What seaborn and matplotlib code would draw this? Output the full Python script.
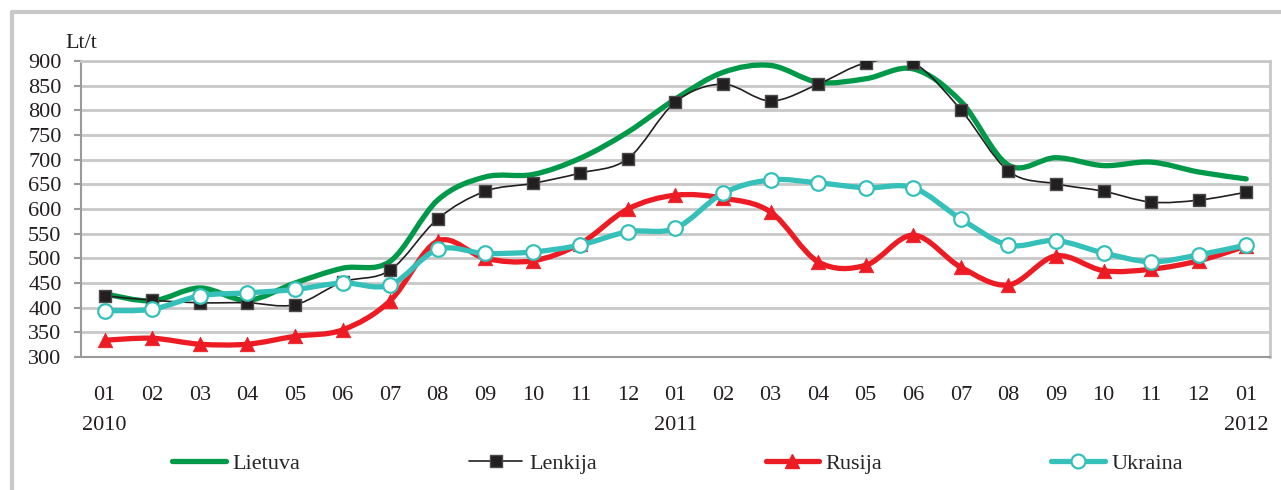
import numpy as np
import pandas as pd
import matplotlib
matplotlib.use('Agg')
import matplotlib.pyplot as plt
import seaborn as sns
from matplotlib.path import Path
from matplotlib.patches import PathPatch
from matplotlib.lines import Line2D

# monthly prices, Lt/t, 2010-01 .. 2012-01
months = ['01', '02', '03', '04', '05', '06', '07', '08', '09', '10', '11', '12',
          '01', '02', '03', '04', '05', '06', '07', '08', '09', '10', '11', '12', '01']
years = ['2010', '2011', '2012']
year_idx = [0, 12, 24]

lietuva = [428, 414, 440, 415, 450, 480, 494, 618, 665, 670, 703, 756, 823,
           877, 891, 857, 864, 884, 818, 689, 704, 688, 695, 675, 661]
lenkija = [424, 415, 410, 410, 406, 452, 476, 580, 636, 652, 673, 702, 817,
           853, 819, 853, 896, 896, 801, 677, 651, 636, 614, 618, 634]
rusija = [334, 338, 326, 326, 342, 355, 414, 535, 500, 495, 530, 600, 628,
          622, 594, 493, 486, 547, 482, 446, 505, 475, 478, 495, 525]
ukraina = [394, 397, 424, 430, 437, 450, 446, 518, 510, 513, 527, 554, 561,
           632, 659, 653, 643, 643, 580, 527, 536, 511, 493, 507, 527]

sns.set_style('white')
plt.rcParams['font.family'] = ['Liberation Serif', 'DejaVu Serif']
plt.rcParams['font.size'] = 16

GRID = '#c8c8c8'
AXIS = '#9a9a9a'


def smooth_path(xs, ys):
    # excel-like smoothed line: bezier segments through every point
    verts = [(xs[0], ys[0])]
    codes = [Path.MOVETO]
    n = len(xs)
    for i in range(n - 1):
        p0 = max(i - 1, 0)
        p3 = min(i + 2, n - 1)
        c1 = (xs[i] + (xs[i + 1] - xs[p0]) / 6, ys[i] + (ys[i + 1] - ys[p0]) / 6)
        c2 = (xs[i + 1] - (xs[p3] - xs[i]) / 6, ys[i + 1] - (ys[p3] - ys[i]) / 6)
        verts += [c1, c2, (xs[i + 1], ys[i + 1])]
        codes += [Path.CURVE4] * 3
    return Path(verts, codes)


pos = np.arange(len(months))
df = pd.DataFrame({'pos': pos, 'Lietuva': lietuva, 'Lenkija': lenkija,
                   'Rusija': rusija, 'Ukraina': ukraina})

fig = plt.figure(figsize=(12.81, 4.9), dpi=100)
ax = fig.add_axes([0.0632, 0.2714, 0.9282, 0.6041])

series = [('Lietuva', '#00994a', 3.8, None),
          ('Lenkija', '#231f20', 1.2, 's'),
          ('Rusija', '#ed1c24', 3.8, '^'),
          ('Ukraina', '#35c0b9', 3.8, 'o')]

for k, (name, col, lw, mk) in enumerate(series):
    patch = PathPatch(smooth_path(df['pos'].values, df[name].values), facecolor='none',
                      edgecolor=col, lw=lw, capstyle='round', joinstyle='round', zorder=3 + 2 * k)
    ax.add_patch(patch)
    if mk == 's':
        sns.scatterplot(data=df, x='pos', y=name, marker='s', s=85, color=col,
                        edgecolor='#4a4a4a', linewidth=1, zorder=4 + 2 * k, ax=ax, legend=False)
    elif mk == '^':
        sns.scatterplot(data=df, x='pos', y=name, marker='^', s=110, color=col,
                        edgecolor=col, linewidth=0.5, zorder=4 + 2 * k, ax=ax, legend=False)
    elif mk == 'o':
        sns.scatterplot(data=df, x='pos', y=name, marker='o', s=110, color='white',
                        edgecolor=col, linewidth=1.6, zorder=4 + 2 * k, ax=ax, legend=False)

ax.set_xlim(-0.5, len(months) - 0.5)
ax.set_ylim(300, 900)
ax.set_yticks(np.arange(300, 901, 50))
ax.set_xticks(pos)
ax.set_xticklabels(months)
ax.set_xticks(np.arange(-0.5, len(months), 1), minor=True)
ax.set_xlabel('')
ax.set_ylabel('')
ax.grid(axis='y', color=GRID, lw=2)
ax.tick_params(axis='x', which='major', length=0, pad=21, labelsize=16, labelcolor='#231f20')
ax.tick_params(axis='x', which='minor', length=7, width=1.5, color=AXIS, direction='out')
ax.tick_params(axis='y', length=5, width=1.5, color=AXIS, pad=9, labelsize=16,
               labelcolor='#231f20', direction='out', left=True)
ax.spines['left'].set_color(AXIS)
ax.spines['bottom'].set_color(AXIS)
ax.spines['left'].set_linewidth(1.5)
ax.spines['bottom'].set_linewidth(1.5)
ax.spines['right'].set_color(GRID)
ax.spines['right'].set_linewidth(2)
ax.spines['top'].set_color(GRID)
ax.spines['top'].set_linewidth(2)

for yr, i in zip(years, year_idx):
    ax.text(i, -0.23, yr, transform=ax.get_xaxis_transform(), ha='center', va='center',
            fontsize=16, color='#231f20')

fig.text(0.0507, 0.912, 'Lt/t', ha='left', va='center', fontsize=16, color='#231f20')

handles = [Line2D([], [], color='#00994a', lw=3.8),
           Line2D([], [], color='#231f20', lw=1.2, marker='s', markersize=9,
                  markerfacecolor='#231f20', markeredgecolor='#4a4a4a'),
           Line2D([], [], color='#ed1c24', lw=3.8, marker='^', markersize=10),
           Line2D([], [], color='#35c0b9', lw=3.8, marker='o', markersize=10,
                  markerfacecolor='white', markeredgewidth=1.6)]
fig.legend(handles, [s[0] for s in series], loc='center', bbox_to_anchor=(0.529, 0.054),
           ncol=4, frameon=False, fontsize=16, handlelength=2.4, columnspacing=7.6,
           handletextpad=0.3)

# grey frame around the whole chart
fig.add_artist(Line2D([0.0094, 1.0], [0.9755, 0.9755], color=GRID, lw=3, transform=fig.transFigure))
fig.add_artist(Line2D([0.0094, 0.0094], [0.0, 0.9755], color=GRID, lw=3, transform=fig.transFigure))

plt.savefig('out.png', dpi=100)
